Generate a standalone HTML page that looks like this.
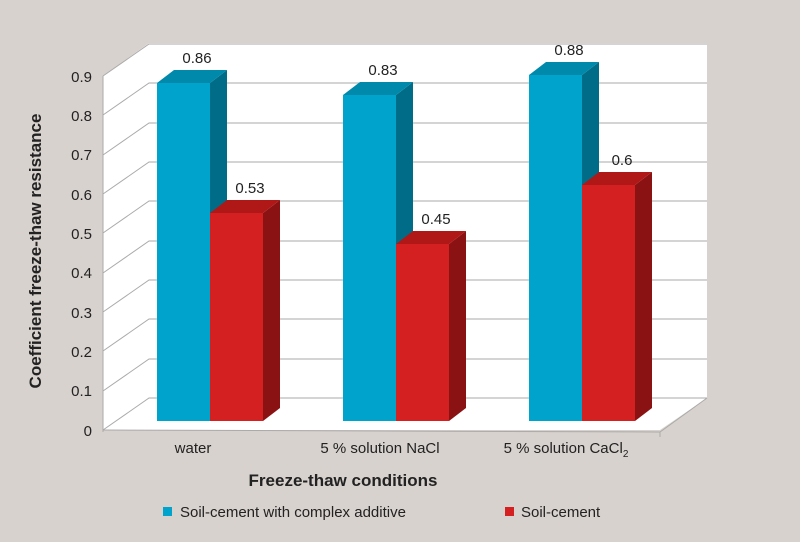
<!DOCTYPE html><html><head><style>body{margin:0;background:#d8d2ce}svg{display:block}text{font-family:"Liberation Sans",sans-serif;fill:#222}</style></head><body>
<svg width="800" height="542" viewBox="0 0 800 542">
<rect width="800" height="542" fill="#d8d2ce"/>
<polygon points="103,76 149,43 707,43 707,398 660,430 103,430" fill="#fff"/>
<g stroke="#aaa" stroke-width="1" fill="none">
<polyline points="103,430 149,398 707,398"/>
<polyline points="103,391 149,359 707,359"/>
<polyline points="103,351 149,319 707,319"/>
<polyline points="103,312 149,280 707,280"/>
<polyline points="103,273 149,241 707,241"/>
<polyline points="103,233 149,201 707,201"/>
<polyline points="103,194 149,162 707,162"/>
<polyline points="103,155 149,123 707,123"/>
<polyline points="103,115 149,83 707,83"/>
<polyline points="103,76 149,44 707,44"/>
<line x1="103" y1="76" x2="103" y2="432"/>
<polyline points="103,430 660,432 707,398"/>
<line x1="660" y1="432" x2="660" y2="437"/>
</g>
<g font-size="15" text-anchor="end">
<text x="92" y="436">0</text><text x="92" y="396">0.1</text><text x="92" y="357">0.2</text><text x="92" y="318">0.3</text><text x="92" y="278">0.4</text><text x="92" y="239">0.5</text><text x="92" y="200">0.6</text><text x="92" y="160">0.7</text><text x="92" y="121">0.8</text><text x="92" y="82">0.9</text>
</g>
<g>
<rect x="157" y="83" width="53" height="338" fill="#00a3cc"/>
<polygon points="210,83 227,70 227,408 210,421" fill="#006c88"/>
<polygon points="157,83 174,70 227,70 210,83" fill="#0089aa"/>
<rect x="210" y="213" width="53" height="208" fill="#d42020"/>
<polygon points="263,213 280,200 280,408 263,421" fill="#8a1212"/>
<polygon points="210,213 227,200 280,200 263,213" fill="#b01818"/>
<rect x="343" y="95" width="53" height="326" fill="#00a3cc"/>
<polygon points="396,95 413,82 413,408 396,421" fill="#006c88"/>
<polygon points="343,95 360,82 413,82 396,95" fill="#0089aa"/>
<rect x="396" y="244" width="53" height="177" fill="#d42020"/>
<polygon points="449,244 466,231 466,408 449,421" fill="#8a1212"/>
<polygon points="396,244 413,231 466,231 449,244" fill="#b01818"/>
<rect x="529" y="75" width="53" height="346" fill="#00a3cc"/>
<polygon points="582,75 599,62 599,408 582,421" fill="#006c88"/>
<polygon points="529,75 546,62 599,62 582,75" fill="#0089aa"/>
<rect x="582" y="185" width="53" height="236" fill="#d42020"/>
<polygon points="635,185 652,172 652,408 635,421" fill="#8a1212"/>
<polygon points="582,185 599,172 652,172 635,185" fill="#b01818"/>
</g>
<g font-size="15" text-anchor="middle">
<text x="197" y="63">0.86</text><text x="250" y="193">0.53</text>
<text x="383" y="75">0.83</text><text x="436" y="224">0.45</text>
<text x="569" y="55">0.88</text><text x="622" y="165">0.6</text>
<text x="193" y="453">water</text>
<text x="380" y="453">5 % solution NaCl</text>
<text x="566" y="453">5 % solution CaCl<tspan font-size="10" dy="4">2</tspan></text>
</g>
<text x="343" y="486" font-size="17" font-weight="bold" text-anchor="middle">Freeze-thaw conditions</text>
<text transform="translate(41,251) rotate(-90)" font-size="17" font-weight="bold" text-anchor="middle">Coefficient freeze-thaw resistance</text>
<rect x="163" y="507" width="9" height="9" fill="#00a3cc"/>
<text x="180" y="517" font-size="15">Soil-cement with complex additive</text>
<rect x="505" y="507" width="9" height="9" fill="#d42020"/>
<text x="521" y="517" font-size="15">Soil-cement</text>
</svg></body></html>
